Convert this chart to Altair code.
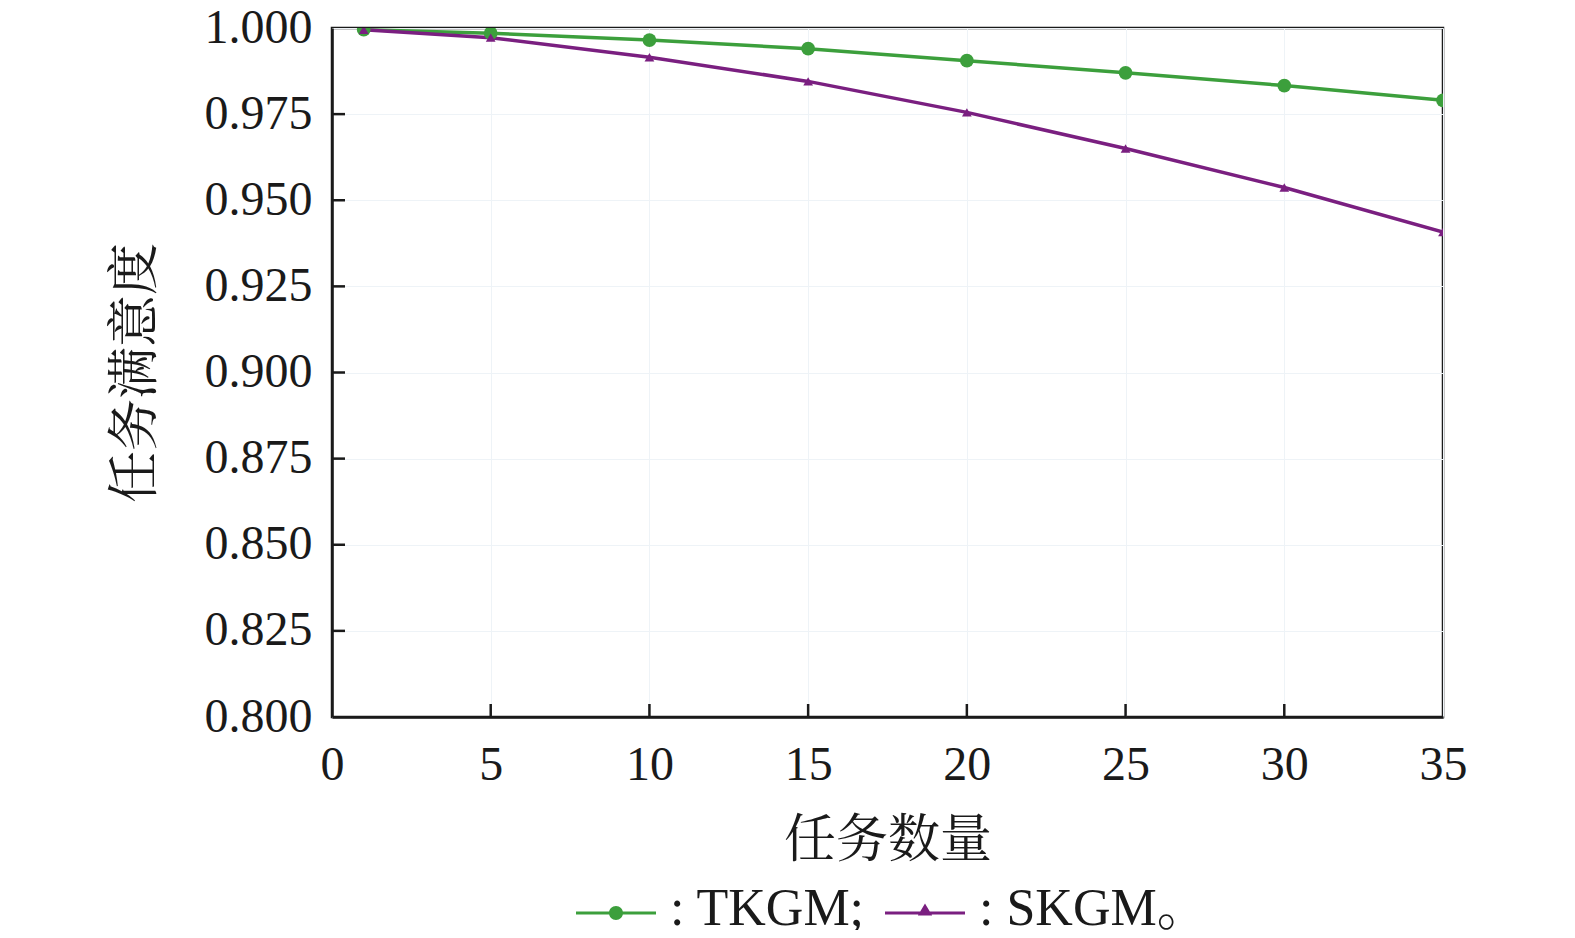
import altair as alt
import pandas as pd

# ---- data ----
task_counts = [1, 5, 10, 15, 20, 25, 30, 35]
tkgm = [0.9995, 0.9985, 0.9965, 0.9940, 0.9905, 0.9870, 0.9833, 0.9790]
skgm = [0.9995, 0.9972, 0.9915, 0.9845, 0.9755, 0.9650, 0.9537, 0.9408]
series_names = ["TKGM", "SKGM"]
x_ticks = [0, 5, 10, 15, 20, 25, 30, 35]
y_ticks = [0.800, 0.825, 0.850, 0.875, 0.900, 0.925, 0.950, 0.975, 1.000]
x_inner_ticks = [5, 10, 15, 20, 25, 30]
y_inner_ticks = [0.825, 0.850, 0.875, 0.900, 0.925, 0.950, 0.975]

colors = ["#3c9f3c", "#7a1f80"]

df = pd.DataFrame(
    {
        "n": task_counts * 2,
        "v": tkgm + skgm,
        "series": ["TKGM"] * len(task_counts) + ["SKGM"] * len(task_counts),
    }
)
xt = pd.DataFrame({"n": x_inner_ticks})
yt = pd.DataFrame({"v": y_inner_ticks})

FONT = "Liberation Serif, Noto Serif CJK SC, Noto Sans CJK SC"
W, H = 1111, 689

xscale = alt.Scale(domain=[0, 35], nice=False, zero=False)
yscale = alt.Scale(domain=[0.8, 1.0], nice=False, zero=False)
xaxis = alt.Axis(
    title="任务数量",
    values=x_ticks,
    format="d",
    tickSize=0,
    labelPadding=24,
    labelFlush=False,
    titlePadding=26,
    grid=True,
)
yaxis = alt.Axis(
    title="任务满意度",
    values=y_ticks,
    format=".3f",
    tickSize=0,
    labelPadding=20,
    labelFlush=False,
    titlePadding=42,
    grid=True,
)
X = alt.X("n:Q", scale=xscale, axis=xaxis)
Y = alt.Y("v:Q", scale=yscale, axis=yaxis)

legend_def = dict(
    title=None,
    orient="none",
    legendX=244,
    legendY=841,
    direction="horizontal",
    symbolSize=6400,
    labelOffset=14,
    labelLimit=0,
    columnPadding=20,
    padding=0,
    labelExpr="datum.label == 'TKGM' ? ': TKGM;' : ': SKGM。'",
)

color = alt.Color(
    "series:N",
    scale=alt.Scale(domain=series_names, range=colors),
    sort=series_names,
    legend=alt.Legend(**legend_def),
)

shape_paths = [
    "M-1,0.062H1V0.138H-1Z M0.175,0.1A0.175,0.175 0 1,1 -0.175,0.1A0.175,0.175 0 1,1 0.175,0.1Z",
    "M-1,0.062H1V0.138H-1Z M0,-0.14L0.18,0.16L-0.18,0.16Z",
]

lines = alt.Chart(df).mark_line(strokeWidth=3.5, clip=True).encode(
    x=X, y=Y, color=color, detail="series:N"
)

circles = (
    alt.Chart(df)
    .transform_filter("datum.series == 'TKGM'")
    .mark_point(filled=True, shape="circle", size=190, opacity=1, clip=True)
    .encode(x=X, y=Y, color=color)
)
triangles = (
    alt.Chart(df)
    .transform_filter("datum.series == 'SKGM'")
    .mark_point(filled=True, shape="triangle-up", size=95, opacity=1, clip=True)
    .encode(x=X, y=Y, color=color)
)

legend_layer = (
    alt.Chart(df)
    .transform_filter("false")
    .mark_point(filled=True, opacity=1)
    .encode(
        x=X,
        y=Y,
        color=color,
        shape=alt.Shape(
            "series:N",
            scale=alt.Scale(domain=series_names, range=shape_paths),
            sort=series_names,
            legend=alt.Legend(**legend_def),
        ),
    )
)

xtick_rules = alt.Chart(xt).mark_rule(color="#1a1a1a", strokeWidth=2.5).encode(
    x=alt.X("n:Q", scale=xscale, axis=xaxis),
    y=alt.value(H),
    y2=alt.value(H - 13),
)
ytick_rules = alt.Chart(yt).mark_rule(color="#1a1a1a", strokeWidth=2.5).encode(
    y=alt.Y("v:Q", scale=yscale, axis=yaxis),
    x=alt.value(0),
    x2=alt.value(13),
)

chart = (
    alt.layer(xtick_rules, ytick_rules, lines, circles, triangles, legend_layer)
    .properties(
        width=W,
        height=H,
        autosize=alt.AutoSizeParams(type="none"),
        padding={"left": 324, "top": 20, "right": 70, "bottom": 213},
        background="white",
    )
    .configure_view(stroke="#1a1a1a", strokeWidth=2.5)
    .configure_axis(
        labelFont=FONT,
        titleFont=FONT,
        labelFontSize=48,
        titleFontSize=52,
        labelColor="#1a1a1a",
        titleColor="#1a1a1a",
        titleFontWeight="normal",
        domainColor="#1a1a1a",
        domainWidth=2.5,
        gridColor="#eef3f7",
        gridWidth=1,
    )
    .configure_legend(
        labelFont=FONT,
        labelFontSize=52,
        labelColor="#1a1a1a",
        symbolStrokeWidth=0,
    )
)

chart.save("out.html", embed_options={"renderer": "svg", "actions": False})
